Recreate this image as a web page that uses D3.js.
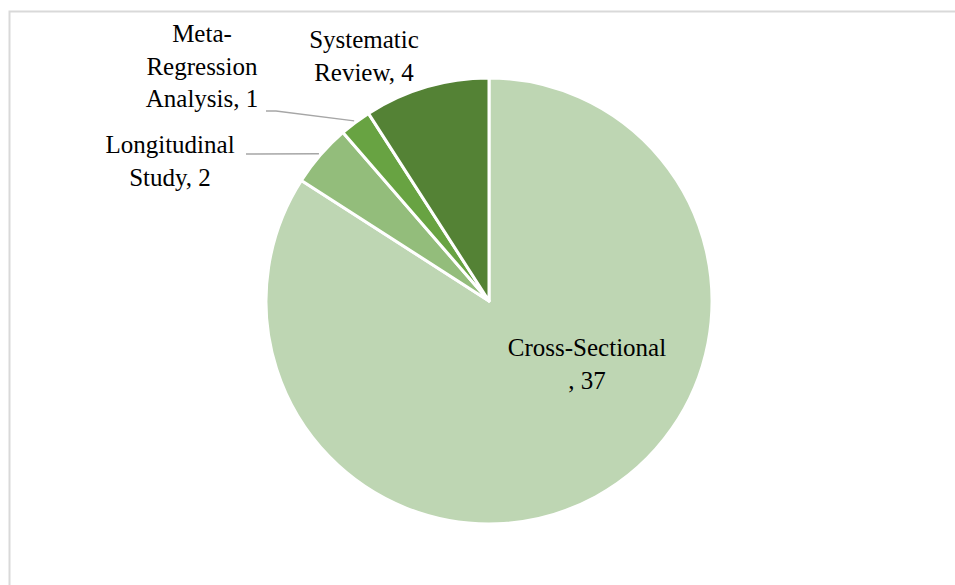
<!DOCTYPE html>
<html><head><meta charset="utf-8">
<script src="https://cdn.jsdelivr.net/npm/d3@7"></script>
<style>html,body{margin:0;padding:0;background:#fff;overflow:hidden}</style>
</head><body><svg id="c" width="955" height="585"></svg>
<script>
const categories = ["Cross-Sectional", "Longitudinal Study", "Meta-Regression Analysis", "Systematic Review"];
const values = [37, 2, 1, 4];
const colors = ["#BED6B3", "#93BD7B", "#68A342", "#548235"];
const labelLines = [["Cross-Sectional", ", 37"], ["Longitudinal", "Study, 2"], ["Meta-", "Regression", "Analysis, 1"], ["Systematic", "Review, 4"]];

const svg = d3.select("#c");
const cx = 489, cy = 301, R = 223;
const font = "'Liberation Serif', 'Times New Roman', serif";
const fs = 25;

svg.append("rect").attr("x", 9.5).attr("y", 11.5).attr("width", 960).attr("height", 600)
  .attr("fill", "none").attr("stroke", "#d9d9d9").attr("stroke-width", 2);

const pie = d3.pie().sort(null).value(d => d)(values);
const arc = d3.arc().innerRadius(0).outerRadius(R);
const g = svg.append("g").attr("transform", `translate(${cx},${cy})`);
g.selectAll("path").data(pie).join("path")
  .attr("d", arc).attr("fill", (d, i) => colors[i])
  .attr("stroke", "#fff").attr("stroke-width", 3).attr("stroke-linejoin", "round");

function edge(i, frac) {
  const p = pie[i];
  const a = p.startAngle + (p.endAngle - p.startAngle) * frac;
  const r = R + 2;
  return [cx + Math.sin(a) * r, cy - Math.cos(a) * r];
}
const leaders = [
  {i: 1, pts: [[246, 154]], frac: 0.5},
  {i: 2, pts: [[266, 111], [276, 111]], frac: 0.5}
];
leaders.forEach(l => {
  const e = edge(l.i, l.frac);
  svg.append("path").attr("d", d3.line()([...l.pts, e]))
    .attr("fill", "none").attr("stroke", "#a6a6a6").attr("stroke-width", 1.5);
});

const labelPos = [[587, 356], [170, 153], [202, 42], [364, 48]];
const lh = 32.5;
labelLines.forEach((lines, i) => {
  const t = svg.append("text").attr("text-anchor", "middle")
    .attr("font-family", font).attr("font-size", fs).attr("fill", "#000");
  lines.forEach((s, k) => {
    t.append("tspan").attr("x", labelPos[i][0]).attr("y", labelPos[i][1] + k * lh).text(s);
  });
});
</script></body></html>
